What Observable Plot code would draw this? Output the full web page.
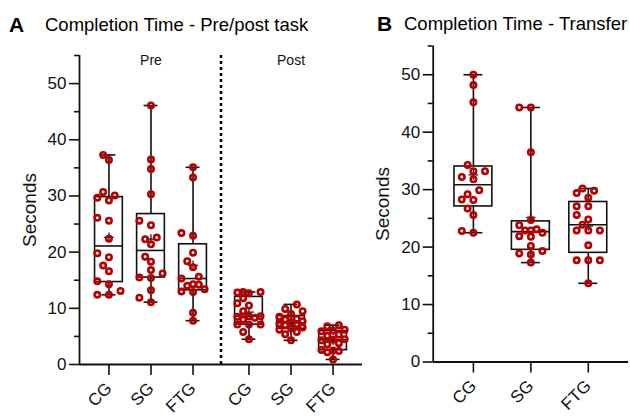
<!DOCTYPE html>
<html><head><meta charset="utf-8">
<script src="https://cdn.jsdelivr.net/npm/d3@7"></script>
<script src="https://cdn.jsdelivr.net/npm/@observablehq/plot@0.6"></script>
<style>
body{margin:0;background:#fff;font-family:"Liberation Sans",Arial,sans-serif;color:#000;}
#wrap{position:relative;width:630px;height:416px;overflow:hidden;background:#fff;}
.panel{position:absolute;top:0;height:416px;}
.letter{position:absolute;font-weight:bold;font-size:21px;line-height:21px;white-space:nowrap;}
.title{position:absolute;font-size:18.5px;line-height:18.5px;white-space:nowrap;}
.chart{position:absolute;top:40px;left:0;}
</style></head><body>
<div id="wrap">
  <div class="panel" style="left:0;width:370px">
    <div class="letter" style="left:9px;top:14px">A</div>
    <div class="title" style="left:45px;top:16px">Completion Time - Pre/post task</div>
    <div class="chart" id="cA"></div>
  </div>
  <div class="panel" style="left:370px;width:260px">
    <div class="letter" style="left:7px;top:13px">B</div>
    <div class="title" style="left:34px;top:15px">Completion Time - Transfer</div>
    <div class="chart" id="cB"></div>
  </div>
</div>
<script>
// ---------- data (seconds) ----------
const groups = ["CG", "SG", "FTG"];
const phasesA = ["Pre", "Post"];
const preCG  = [37.3, 36.4, 30.7, 30.1, 29.7, 29.2, 25.6, 26.1, 22.4, 19.8, 19.1, 17.6, 16.6, 14.8, 14.3, 13.1, 12.4, 12.4];
const preSG  = [46.1, 36.5, 34.8, 30.3, 25.6, 24.8, 22.6, 22.3, 21.4, 19.2, 18.3, 16.8, 16.2, 15.5, 15.4, 13.2, 11.9, 11.1];
const preFTG = [35.1, 33.3, 23.4, 22.9, 19.9, 18.4, 17.3, 15.6, 15.3, 14.3, 14.2, 14.0, 13.4, 13.0, 12.9, 9.2, 7.8];
const postCG  = [12.9, 12.9, 12.8, 12.7, 11.8, 10.9, 10.5, 9.5, 8.6, 8.6, 8.5, 8.3, 8.0, 7.1, 7.1, 7.1, 5.8, 4.5];
const postSG  = [10.7, 9.9, 9.5, 9.0, 8.5, 8.1, 8.0, 7.7, 7.5, 7.3, 7.2, 7.0, 6.6, 6.4, 6.2, 5.8, 5.4, 4.3];
const postFTG = [7.0, 6.8, 6.2, 6.0, 5.9, 5.3, 5.1, 4.5, 4.4, 4.3, 3.8, 3.6, 2.6, 2.5, 2.4, 2.2, 0.9];
const transferCG  = [50.0, 48.2, 45.2, 34.3, 33.2, 33.2, 32.2, 31.8, 29.9, 29.2, 28.3, 28.2, 26.7, 25.6, 22.8, 22.5];
const transferSG  = [44.3, 44.3, 36.5, 24.7, 23.8, 23.1, 22.9, 22.9, 22.5, 21.9, 21.8, 20.2, 19.3, 18.9, 18.7, 17.3];
const transferFTG = [30.2, 29.8, 29.4, 28.6, 27.1, 27.1, 25.6, 24.8, 23.9, 22.9, 22.9, 22.9, 20.3, 17.7, 17.7, 17.7, 13.7];
const yMajor = [0, 10, 20, 30, 40, 50];
const yMinor = [5, 15, 25, 35, 45, 55];
const yMax = 55;

// ---------- helpers ----------
const INK = "#111";
const RED = "#b40000";
const BOX_HALF = 0.33, CAP_HALF = 0.165, PAD = 0.7, PHASE_GAP = 0.33;
const COL_PX = 11.6, MIN_PX = 7.6;
const cands = [0, -0.5, 0.5, -1, 1];

function quant(s, p) { // (n+1) method
  const n = s.length, h = (n + 1) * p;
  if (h <= 1) return s[0];
  if (h >= n) return s[n - 1];
  const lo = Math.floor(h);
  return s[lo - 1] + (h - lo) * (s[lo] - s[lo - 1]);
}
function stats(values, pos) {
  const s = values.slice().sort((a, b) => a - b);
  return {pos, min: s[0], max: s[s.length - 1], q1: quant(s, 0.25), median: quant(s, 0.5), q3: quant(s, 0.75), mean: d3.mean(s)};
}
function swarm(values, pos, pxX, pxY) {
  const placed = [], out = [];
  const s = values.slice().sort((a, b) => a - b);
  for (const v of s) {
    const yp = v * pxY;
    let best = null, bestD = -1;
    for (const k of cands) {
      const xp = k * COL_PX;
      const dmin = placed.length ? d3.min(placed, p => Math.hypot(p.x - xp, p.y - yp)) : Infinity;
      if (dmin >= MIN_PX) { best = xp; break; }
      if (dmin > bestD + 0.5) { bestD = dmin; best = xp; }
    }
    placed.push({x: best, y: yp});
    out.push({x: pos + best / pxX, y: v});
  }
  return out;
}

function panel({series, labels, phaseLabels, width, height, margin, dashAt}) {
  const positions = series.map(d => d.pos);
  const xDomain = [positions[0] - PAD, positions[positions.length - 1] + PAD];
  const pxX = (width - margin.left - margin.right) / (xDomain[1] - xDomain[0]);
  const pxY = (height - margin.top - margin.bottom) / yMax;
  const st = series.map(d => stats(d.values, d.pos));
  const pts = series.flatMap(d => swarm(d.values, d.pos, pxX, pxY));
  const labelMap = new Map(series.map((d, i) => [d.pos, labels[i]]));
  const marks = [
    Plot.ruleX(st, {x: "pos", y1: "min", y2: "q1", stroke: INK, strokeWidth: 1.6}),
    Plot.ruleX(st, {x: "pos", y1: "q3", y2: "max", stroke: INK, strokeWidth: 1.6}),
    Plot.ruleY(st, {y: "min", x1: d => d.pos - CAP_HALF, x2: d => d.pos + CAP_HALF, stroke: INK, strokeWidth: 1.6}),
    Plot.ruleY(st, {y: "max", x1: d => d.pos - CAP_HALF, x2: d => d.pos + CAP_HALF, stroke: INK, strokeWidth: 1.6}),
    Plot.rect(st, {x1: d => d.pos - BOX_HALF, x2: d => d.pos + BOX_HALF, y1: "q1", y2: "q3", fill: "none", stroke: INK, strokeWidth: 1.6}),
    Plot.ruleY(st, {y: "median", x1: d => d.pos - BOX_HALF, x2: d => d.pos + BOX_HALF, stroke: INK, strokeWidth: 1.6}),
    Plot.dot(st, {x: "pos", y: "mean", symbol: "plus", r: 3.2, stroke: INK, strokeWidth: 1.2}),
    Plot.dot(pts, {x: "x", y: "y", r: 2.7, stroke: RED, strokeWidth: 2.6, fill: "none"}),
    Plot.ruleX([xDomain[0]], {stroke: INK, strokeWidth: 1.8}),
    Plot.ruleY([0], {stroke: INK, strokeWidth: 1.8}),
    Plot.axisY({ticks: yMajor, tickSize: 10, tickPadding: 3, label: null, strokeWidth: 1.6, fontSize: 17}),
    Plot.axisY({ticks: yMinor, tickSize: 5, tickFormat: () => "", label: null, strokeWidth: 1.6}),
    Plot.axisX({ticks: positions, tickFormat: d => labelMap.get(d), tickRotate: -45, tickSize: 11, tickPadding: 10, label: null, strokeWidth: 1.6, fontSize: 17}),
    Plot.text(["Seconds"], {text: d => d, frameAnchor: "left", rotate: -90, dx: -50, fontSize: 19, textAnchor: "middle", lineAnchor: "middle"})
  ];
  if (dashAt !== undefined) {
    marks.push(Plot.ruleX([dashAt], {stroke: "#000", strokeWidth: 2.5, strokeDasharray: "3,3"}));
  }
  if (phaseLabels) {
    marks.push(Plot.text(phaseLabels, {x: "pos", text: "label", frameAnchor: "top", dy: 5, fontSize: 14, lineAnchor: "middle"}));
  }
  return Plot.plot({
    width, height,
    marginTop: margin.top, marginRight: margin.right, marginBottom: margin.bottom, marginLeft: margin.left,
    x: {type: "linear", domain: xDomain},
    y: {domain: [0, yMax]},
    style: {fontFamily: "Liberation Sans, Arial, sans-serif", fontSize: "17px", color: "#111", background: "white", overflow: "visible"},
    marks
  });
}

// Panel A
const valuesA = [[preCG, preSG, preFTG], [postCG, postSG, postFTG]];
const seriesA = [];
valuesA.forEach((arrs, p) => arrs.forEach((values, g) => seriesA.push({pos: p * (groups.length + PHASE_GAP) + g, values})));
const labelsA = phasesA.flatMap(() => groups);
const phaseLabelsA = phasesA.map((label, p) => ({label, pos: p * (groups.length + PHASE_GAP) + 1}));
const dashA = (seriesA[2].pos + seriesA[3].pos) / 2;
document.getElementById("cA").append(panel({
  series: seriesA, labels: labelsA, phaseLabels: phaseLabelsA,
  width: 370, height: 376, margin: {top: 15, right: 8, bottom: 52, left: 79}, dashAt: dashA
}));

// Panel B
const seriesB = [transferCG, transferSG, transferFTG].map((values, g) => ({pos: g, values}));
document.getElementById("cB").append(panel({
  series: seriesB, labels: groups,
  width: 260, height: 376, margin: {top: 5.5, right: 2, bottom: 54.5, left: 62.7}
}));
</script>
</body></html>
